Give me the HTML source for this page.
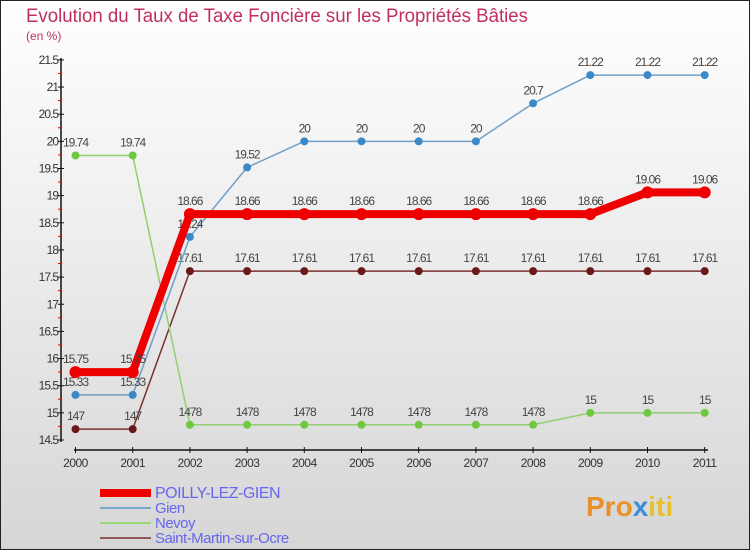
<!DOCTYPE html>
<html><head><meta charset="utf-8">
<style>
html,body{margin:0;padding:0}
body{width:750px;height:550px;overflow:hidden;font-family:"Liberation Sans",sans-serif}
svg text{font-family:"Liberation Sans",sans-serif}
</style></head>
<body>
<svg id="chart" width="750" height="550" xmlns="http://www.w3.org/2000/svg">
<defs><linearGradient id="bg" x1="0" y1="0" x2="0" y2="1"><stop offset="0" stop-color="#ffffff"/><stop offset="1" stop-color="#d6d6d6"/></linearGradient></defs>
<rect x="0.5" y="0.5" width="749" height="549" fill="url(#bg)" stroke="#222" stroke-width="1"/>
<text x="26" y="22" font-size="19" fill="#c0305a" textLength="502" lengthAdjust="spacingAndGlyphs">Evolution du Taux de Taxe Foncière sur les Propriétés Bâties</text>
<text x="26" y="40" font-size="12" fill="#c0305a">(en %)</text>
<g id="axes"></g>
<g id="series"></g>
<g id="legend"></g>
<text x="586" y="516" font-size="28" font-weight="bold" fill="#e8902a">Pro<tspan fill="#3a8fd8">x</tspan><tspan fill="#e8c02a">iti</tspan></text>
</svg>
<script>
const years=[2000,2001,2002,2003,2004,2005,2006,2007,2008,2009,2010,2011];
const yTicks=[14.5,15,15.5,16,16.5,17,17.5,18,18.5,19,19.5,20,20.5,21,21.5];
const poilly=[15.75,15.75,18.66,18.66,18.66,18.66,18.66,18.66,18.66,18.66,19.06,19.06];
const gien=[15.33,15.33,18.24,19.52,20,20,20,20,20.7,21.22,21.22,21.22];
const nevoy=[19.74,19.74,14.78,14.78,14.78,14.78,14.78,14.78,14.78,15,15,15];
const stMartin=[14.7,14.7,17.61,17.61,17.61,17.61,17.61,17.61,17.61,17.61,17.61,17.61];
const seriesNames=["POILLY-LEZ-GIEN","Gien","Nevoy","Saint-Martin-sur-Ocre"];
const NS="http://www.w3.org/2000/svg";
function X(i){return 75.5+i*57.2;}
function Y(v){return 440-(v-14.5)*54.3;}
function mk(tag,attrs,parent){const e=document.createElementNS(NS,tag);for(const k in attrs)e.setAttribute(k,attrs[k]);parent.appendChild(e);return e;}
const axes=document.getElementById('axes');
let a=mk('line',{x1:61,y1:58,x2:61,y2:442,stroke:'#111','stroke-width':1.5},axes);


a=mk('line',{x1:74,y1:450,x2:708,y2:450,stroke:'#111','stroke-width':1.5},axes);


yTicks.forEach((t,i)=>{
 const y=Y(t);
 mk('line',{x1:58,y1:y,x2:64,y2:y,stroke:'#111'},axes);
 if(i<yTicks.length-1) mk('line',{x1:58,y1:y-13.6,x2:61,y2:y-13.6,stroke:'#e00'},axes);
 const tx=mk('text',{x:58,y:y+4,'font-size':12,'text-anchor':'end',fill:'#333','letter-spacing':'-1'},axes);
 tx.textContent=String(t);
 
 
});
years.forEach((yr,i)=>{
 const x=X(i);
 mk('line',{x1:x,y1:447,x2:x,y2:453,stroke:'#111'},axes);
 const tx=mk('text',{x:x,y:467,'font-size':12,'text-anchor':'middle',fill:'#333','letter-spacing':'-0.5'},axes);
 tx.textContent=String(yr);
 
 
});
const sg=document.getElementById('series');
function draw(data,color,width,r,dot,name,labels){
 const g=mk('g',{},sg);
 
 
 const pts=data.map((v,i)=>X(i)+','+Y(v)).join(' ');
 mk('polyline',{points:pts,fill:'none',stroke:color,'stroke-width':width,'stroke-linejoin':'round'},g);
 data.forEach((v,i)=>{
  const c=mk('circle',{cx:X(i),cy:Y(v),r:r,fill:dot},g);
  
  
  const t=mk('text',{x:X(i),y:Y(v)-9,'font-size':12,'text-anchor':'middle',fill:'#444','letter-spacing':'-1'},g);
  t.textContent=labels(v);
  
  
 });
}
const lbl=v=>{let s=String(v);if(s==='14.7')return'147';if(s==='14.78')return'1478';return s;};
draw(stMartin,'#7a3030',1.5,4,'#6a1818','saint-martin-series',lbl);
draw(nevoy,'#90d070',1.5,4,'#70c840','nevoy-series',lbl);
draw(gien,'#70a0c8',1.5,4,'#3a88c8','gien-series',lbl);
draw(poilly,'#ee0000',8,6,'#ee0000','poilly-series',lbl);
const lg=document.getElementById('legend');
const lc=[['#ee0000',8],['#78a8c8',2],['#98d878',2],['#905858',2]];
seriesNames.forEach((n,i)=>{
 const y=493+i*15;
 const g=mk('g',{},lg);
 
 
 mk('line',{x1:100,y1:y,x2:151,y2:y,stroke:lc[i][0],'stroke-width':lc[i][1]},g);
 const t=mk('text',{x:155,y:y+5,'font-size':i==0?16:15,fill:'#6666ee','letter-spacing':'-0.5'},g);
 t.textContent=n;
});
</script>
</body></html>
